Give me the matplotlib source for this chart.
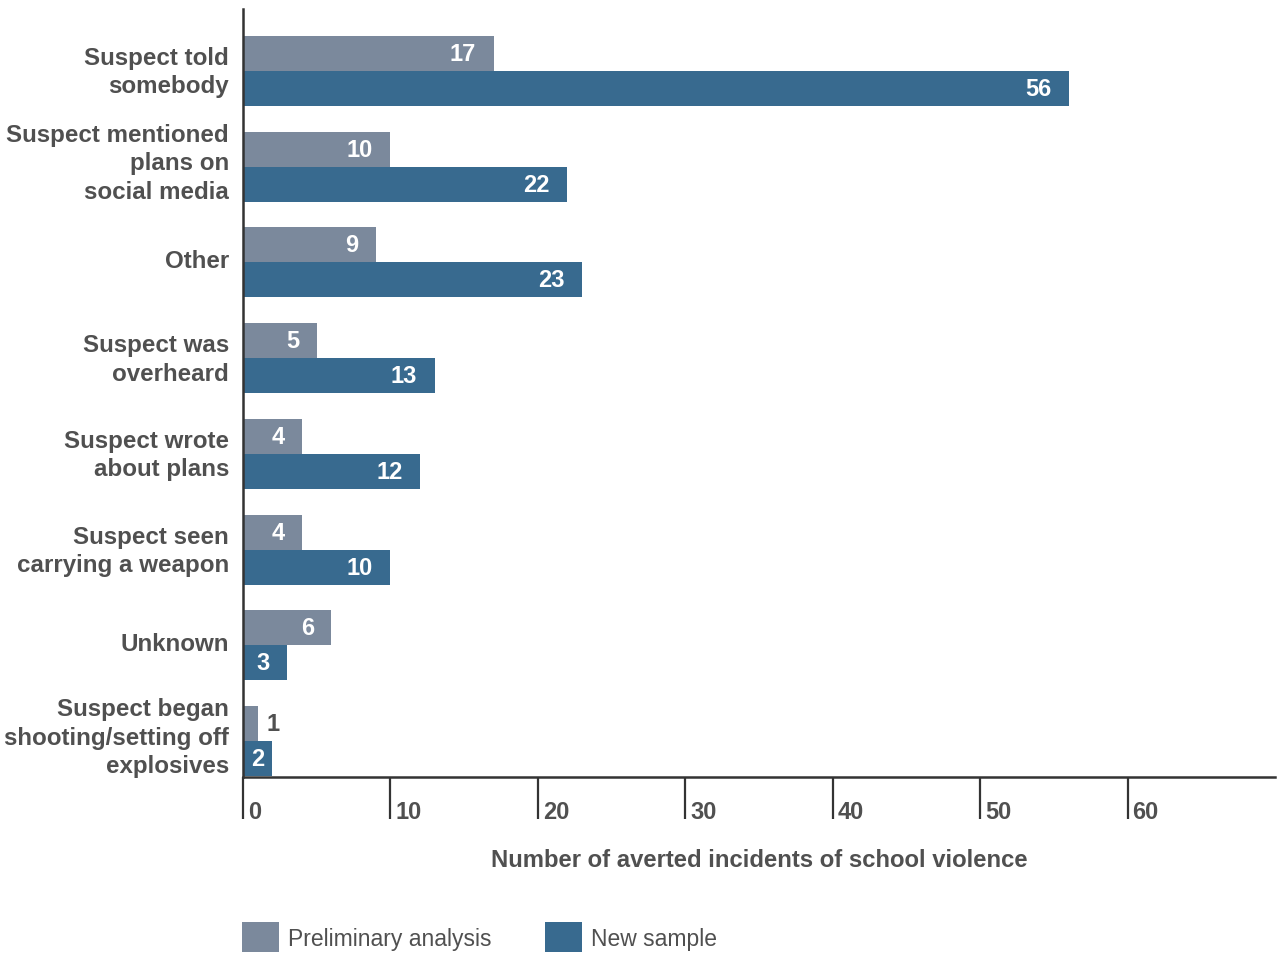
import matplotlib
matplotlib.use("Agg")
import matplotlib.pyplot as plt
from matplotlib.patches import Patch
from matplotlib.transforms import ScaledTranslation

categories = [
    "Suspect told\nsomebody",
    "Suspect mentioned\nplans on\nsocial media",
    "Other",
    "Suspect was\noverheard",
    "Suspect wrote\nabout plans",
    "Suspect seen\ncarrying a weapon",
    "Unknown",
    "Suspect began\nshooting/setting off\nexplosives",
]
preliminary = [17, 10, 9, 5, 4, 4, 6, 1]
new_sample = [56, 22, 23, 13, 12, 10, 3, 2]
series_names = ["Preliminary analysis", "New sample"]
x_ticks = [0, 10, 20, 30, 40, 50, 60]

GRAY = "#7b899c"
BLUE = "#386a8f"
TEXT = "#505050"
AXIS = "#333333"
FONT = "Liberation Sans"

plt.rcParams["font.family"] = [FONT, "DejaVu Sans"]

fig = plt.figure(figsize=(12.78, 9.54), dpi=100)
ax = fig.add_axes([0.1901, 0.1845, 0.8076, 0.805])

XMAX = 70
bar_h = 0.366
pos = list(range(len(categories)))
pos_gray = [p - bar_h / 2 for p in pos]
pos_blue = [p + bar_h / 2 for p in pos]

bars_g = ax.barh(pos_gray, preliminary, height=bar_h, color=GRAY, linewidth=0)
bars_b = ax.barh(pos_blue, new_sample, height=bar_h, color=BLUE, linewidth=0)

ax.set_xlim(0, XMAX)
ax.set_ylim(7.376, -0.648)

# value labels: white inside the bar end, dark outside for very short bars
for bars, vals in ((bars_g, preliminary), (bars_b, new_sample)):
    for rect, v in zip(bars, vals):
        yc = rect.get_y() + rect.get_height() / 2
        if v >= 3:
            ax.annotate(str(v), xy=(v, yc), xytext=(-12.5, 0),
                        textcoords="offset points", ha="right", va="center",
                        color="white", fontsize=17, fontweight="bold")
        elif v >= 2:
            ax.annotate(str(v), xy=(v / 2, yc), ha="center", va="center",
                        color="white", fontsize=17, fontweight="bold")
        else:
            ax.annotate(str(v), xy=(v, yc), xytext=(6, 0),
                        textcoords="offset points", ha="left", va="center",
                        color=TEXT, fontsize=17, fontweight="bold")

ax.set_yticks(pos)
ax.set_yticklabels(categories, fontsize=17.4, fontweight="bold", color=TEXT,
                   linespacing=1.3)
ax.tick_params(axis="y", length=0, pad=10)
# nudge category labels slightly upward (more for three-line labels)
for lab, name in zip(ax.get_yticklabels(), categories):
    dy = 9 if name.count("\n") >= 2 else 4.5
    lab.set_transform(lab.get_transform() +
                      ScaledTranslation(0, dy / 100, fig.dpi_scale_trans))

ax.set_xticks(x_ticks)
ax.set_xticklabels([""] * len(x_ticks))
ax.tick_params(axis="x", direction="out", length=30, width=1.6, color=AXIS)
for t in x_ticks:
    ax.annotate(str(t), xy=(t, 0), xycoords=("data", "axes fraction"),
                xytext=(3.5, -24.5), textcoords="offset points",
                ha="left", va="center", fontsize=17, fontweight="bold",
                color=TEXT)

for side in ("top", "right"):
    ax.spines[side].set_visible(False)
for side in ("left", "bottom"):
    ax.spines[side].set_color(AXIS)
    ax.spines[side].set_linewidth(1.8)

ax.set_xlabel("Number of averted incidents of school violence", fontsize=17.2,
              fontweight="bold", color=TEXT, va="center")
ax.xaxis.set_label_coords(0.5, -0.107)

handles = [Patch(facecolor=GRAY, edgecolor="none"),
           Patch(facecolor=BLUE, edgecolor="none")]
fig.legend(handles, series_names, loc="lower left",
           bbox_to_anchor=(0.1886, 0.0), ncol=2, frameon=False,
           fontsize=16.5, labelcolor=TEXT, borderpad=0.05,
           handlelength=1.6, handleheight=1.6, handletextpad=0.4,
           columnspacing=2.35, borderaxespad=0)

fig.savefig("out.png", dpi=100)
